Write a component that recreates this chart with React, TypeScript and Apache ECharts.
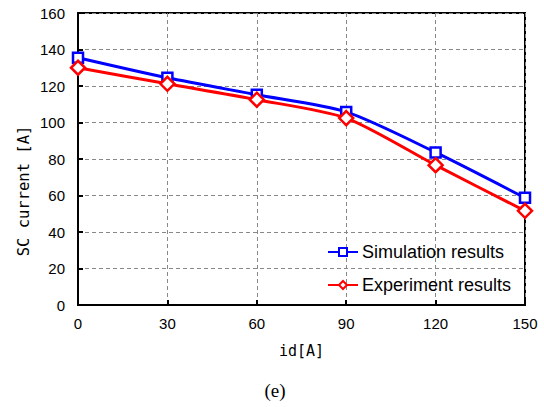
import React, { useEffect, useRef } from "react";
import * as echarts from "echarts";

const xValues = [0, 30, 60, 90, 120, 150];
const simulation = [135.5, 124.5, 115.2, 105.8, 83.6, 58.7];
const experiment = [130.0, 121.2, 112.5, 102.4, 76.6, 51.6];
const seriesNames = ["Simulation results", "Experiment results"];

export default function App() {
  const ref = useRef<HTMLDivElement>(null);
  useEffect(() => {
    const chart = echarts.init(ref.current!, undefined, { renderer: "svg" });
    const labelFont = { fontFamily: "Liberation Sans, Arial", fontSize: 15, color: "#000" };
    chart.setOption({
      animation: false,
      backgroundColor: "#fff",
      grid: {
        left: 78,
        right: 19,
        top: 13,
        bottom: 102,
        show: true,
        borderColor: "#000",
        borderWidth: 2,
        containLabel: false,
      },
      legend: {
        orient: "vertical",
        left: 322,
        top: 238,
        itemWidth: 30,
        itemHeight: 10,
        itemGap: 15,
        textStyle: { fontFamily: "Liberation Sans, Arial", fontSize: 18, color: "#000", padding: [0, 0, 0, -1] },
        data: seriesNames,
      },
      xAxis: {
        type: "value",
        min: 0,
        max: 150,
        interval: 30,
        name: "id[A]",
        nameLocation: "middle",
        nameGap: 38,
        nameTextStyle: { fontFamily: "DejaVu Sans Mono, monospace", fontSize: 15, color: "#000" },
        axisLine: { lineStyle: { color: "#000", width: 2 } },
        axisTick: { inside: true, length: 5, lineStyle: { color: "#000", width: 2 } },
        axisLabel: { ...labelFont, margin: 11 },
        splitLine: { show: true, lineStyle: { color: "#888", type: [4, 3], width: 1 } },
      },
      yAxis: {
        type: "value",
        min: 0,
        max: 160,
        interval: 20,
        axisLine: { lineStyle: { color: "#000", width: 2 } },
        axisTick: { inside: true, length: 5, lineStyle: { color: "#000", width: 2 } },
        axisLabel: { ...labelFont, margin: 13 },
        splitLine: { show: true, lineStyle: { color: "#888", type: [4, 3], width: 1 } },
      },
      series: [
        {
          name: seriesNames[0],
          type: "line",
          data: xValues.map((x, i) => [x, simulation[i]]),
          smooth: 0.25,
          symbol: "rect",
          symbolSize: 10,
          lineStyle: { color: "#0000ff", width: 3 },
          itemStyle: { color: "#fff", borderColor: "#0000ff", borderWidth: 2.5 },
          color: "#0000ff",
          z: 3,
        },
        {
          name: seriesNames[1],
          type: "line",
          data: xValues.map((x, i) => [x, experiment[i]]),
          smooth: 0.25,
          symbol: "diamond",
          symbolSize: 14,
          lineStyle: { color: "#ff0000", width: 3 },
          itemStyle: { color: "#fff", borderColor: "#ff0000", borderWidth: 2.5 },
          color: "#ff0000",
          z: 4,
        },
      ],
      graphic: [
        {
          type: "text",
          x: 24,
          y: 191,
          rotation: Math.PI / 2,
          style: {
            text: "SC current [A]",
            fontFamily: "DejaVu Sans Mono, monospace",
            fontSize: 15.5,
            fill: "#000",
            align: "center",
            verticalAlign: "middle",
          },
        },
        {
          type: "text",
          x: 275,
          y: 390,
          style: {
            text: "(e)",
            fontFamily: "Liberation Serif, Times New Roman",
            fontSize: 19,
            fill: "#000",
            align: "center",
            verticalAlign: "middle",
          },
        },
      ],
    });
    return () => chart.dispose();
  }, []);
  return (
    <div
      ref={ref}
      style={{ position: "fixed", left: 0, top: 0, width: 544, height: 407 }}
    />
  );
}
